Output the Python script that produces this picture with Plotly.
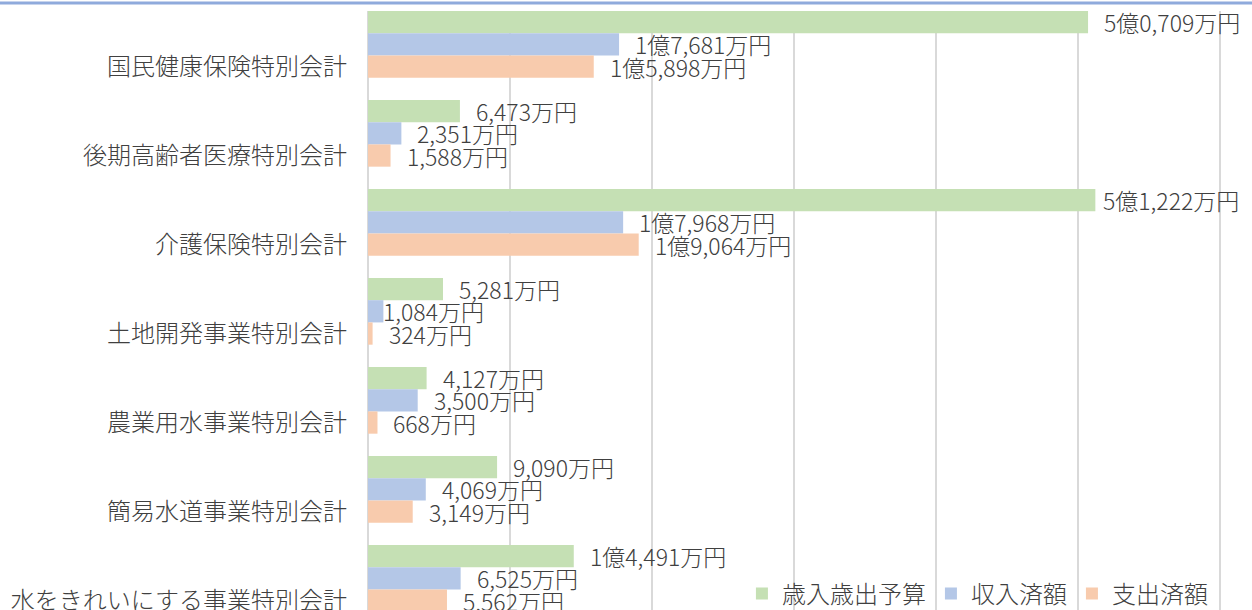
import plotly.graph_objects as go

# ---- data (values in 万円) ----
categories = [
    "国民健康保険特別会計",
    "後期高齢者医療特別会計",
    "介護保険特別会計",
    "土地開発事業特別会計",
    "農業用水事業特別会計",
    "簡易水道事業特別会計",
    "水をきれいにする事業特別会計",
]
budget = [50709, 6473, 51222, 5281, 4127, 9090, 14491]
revenue = [17681, 2351, 17968, 1084, 3500, 4069, 6525]
expense = [15898, 1588, 19064, 324, 668, 3149, 5562]
series_names = ["歳入歳出予算", "収入済額", "支出済額"]

# ---- styles ----
colors = ["#c5e0b4", "#b4c7e7", "#f8cbad"]
FONT = "Noto Sans CJK JP"
TEXT_COLOR = "#404040"
BAR_W = 0.25
LABEL_GAP = 14
# per-label gap tweaks (series index, category index) -> px, as in the original
LABEL_GAP_OVERRIDE = {(0, 2): 6, (1, 3): -2}


def fmt(v):
    oku, man = divmod(v, 10000)
    if oku:
        s = f"{man:04d}"
        return f"{oku}億{s[0]},{s[1:]}万円"
    return f"{man:,}万円"


fig = go.Figure()
series = [budget, revenue, expense]
idx = list(range(len(categories)))
annotations = []
for j, (name, vals, col) in enumerate(zip(series_names, series, colors)):
    off = -1.5 * BAR_W + BAR_W * j
    fig.add_trace(go.Bar(
        y=idx, x=vals, name=name, orientation="h",
        width=BAR_W, offset=off,
        marker=dict(color=col, line=dict(width=0)),
        hoverinfo="skip",
    ))
    for i, v in zip(idx, vals):
        annotations.append(dict(
            x=v, y=i + off + BAR_W / 2, xref="x", yref="y",
            text=fmt(v), showarrow=False, xanchor="left", yanchor="middle",
            xshift=LABEL_GAP_OVERRIDE.get((j, i), LABEL_GAP),
            font=dict(family=FONT, size=23, color=TEXT_COLOR, weight=300),
        ))

fig.update_layout(
    width=1252, height=610, autosize=False,
    margin=dict(l=368, r=0, t=11, b=0, pad=0, autoexpand=False),
    paper_bgcolor="white", plot_bgcolor="white",
    barmode="overlay",
    font=dict(family=FONT, size=24, color=TEXT_COLOR, weight=300),
    showlegend=True,
    legend=dict(
        orientation="h", x=0.423, xanchor="left", y=0.027, yanchor="middle",
        bgcolor="rgba(0,0,0,0)",
        font=dict(family=FONT, size=24, color=TEXT_COLOR, weight=300),
        traceorder="normal",
    ),
    annotations=annotations,
    shapes=[dict(
        type="line", xref="paper", yref="paper",
        x0=-0.5, x1=1.0, y0=1 + 8 / 599, y1=1 + 8 / 599,
        line=dict(color="#8faadc", width=3),
    )],
)
fig.update_xaxes(
    range=[0, 62254], tick0=0, dtick=10000,
    showgrid=True, gridcolor="#d9d9d9", gridwidth=2,
    zeroline=True, zerolinecolor="#d9d9d9", zerolinewidth=2,
    showticklabels=False, ticks="", automargin=False,
)
fig.update_yaxes(
    range=[6.356, -0.374],
    tickmode="array", tickvals=[i + BAR_W for i in idx], ticktext=categories,
    showgrid=False, zeroline=False, ticks="", ticklabelstandoff=20,
    automargin=False, ticklabeloverflow="allow",
    tickfont=dict(family=FONT, size=24, color=TEXT_COLOR, weight=300),
)

fig.write_html(
    "out.html",
    config={"displayModeBar": False},
    post_script="document.body.style.margin='0';document.body.style.overflow='hidden';",
)
